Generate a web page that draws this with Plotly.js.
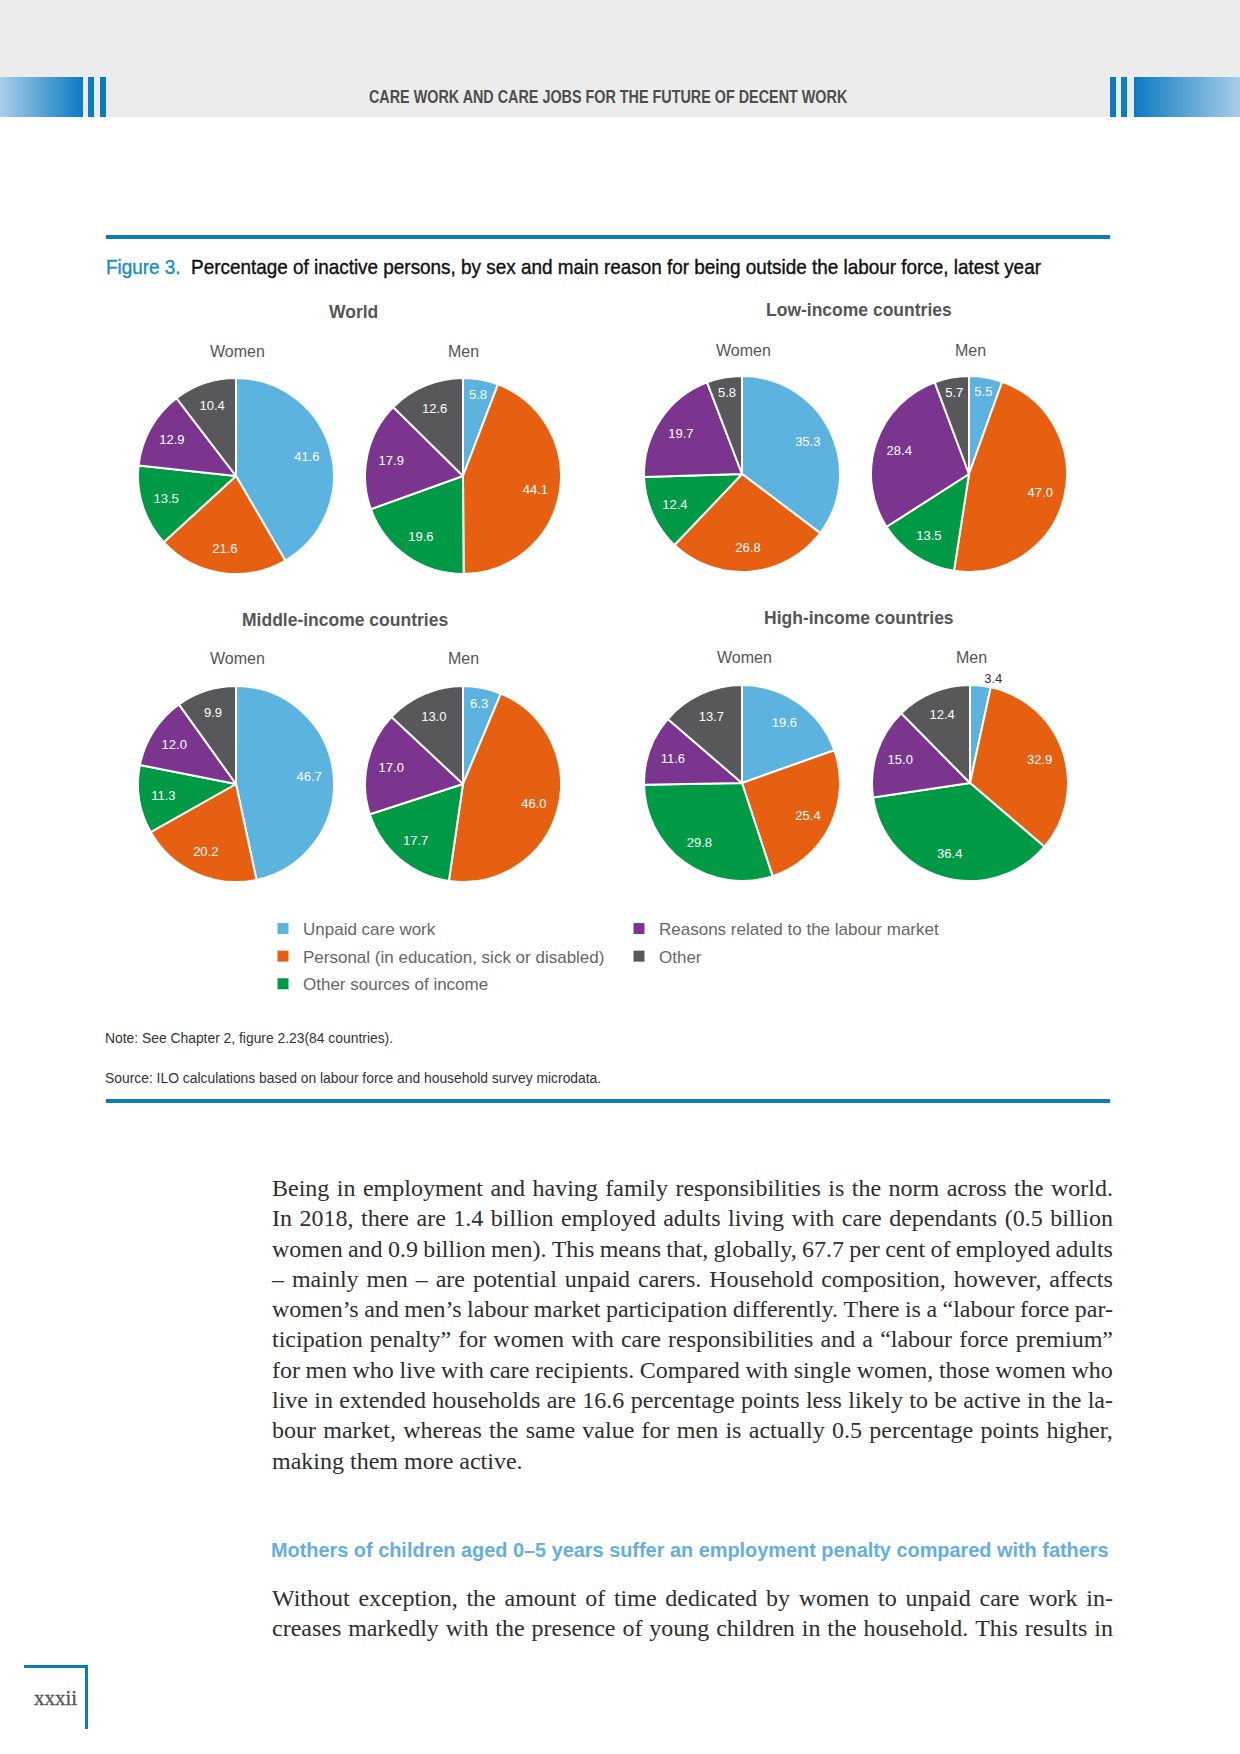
<!DOCTYPE html>
<html>
<head>
<meta charset="utf-8">
<script src="https://cdn.plot.ly/plotly-3.0.1.min.js"></script>
<style>
body{margin:0;width:1240px;height:1754px;position:relative;background:#fff;overflow:hidden;font-family:"Liberation Sans",Arial,sans-serif;}
.abs{position:absolute;}
.fit{position:absolute;white-space:nowrap;transform-origin:0 50%;display:inline-block;line-height:1.2;}
.narrow{font-family:"Liberation Sans Narrow","Arial Narrow","Liberation Sans",sans-serif;}
.para{position:absolute;left:272px;width:841px;font-family:"Liberation Serif","Times New Roman",serif;font-size:24px;color:#2e2e2e;}
.line{display:flex;justify-content:space-between;height:30.3px;line-height:30.3px;white-space:nowrap;}
.line.last{justify-content:flex-start;}
#chart{position:absolute;left:0;top:290px;width:1240px;height:720px;}
</style>
</head>
<body>
<!-- header band -->
<div class="abs" style="left:0;top:0;width:1240px;height:117px;background:#ececec"></div>
<div class="abs" style="left:0;top:77px;width:83px;height:40px;background:linear-gradient(to right,#a9cdea,#0a7cc1)"></div>
<div class="abs" style="left:88px;top:77px;width:6px;height:40px;background:#0a7cc1"></div>
<div class="abs" style="left:100px;top:77px;width:6px;height:40px;background:#0a7cc1"></div>
<div class="abs" style="left:1110px;top:77px;width:6px;height:40px;background:#0a7cc1"></div>
<div class="abs" style="left:1121px;top:77px;width:6px;height:40px;background:#0a7cc1"></div>
<div class="abs" style="left:1134px;top:77px;width:106px;height:40px;background:linear-gradient(to right,#0a7cc1,#a9cdea)"></div>
<div class="fit narrow" data-x="369" data-w="478" data-cy="98" style="font-weight:bold;font-size:18px;color:#4d4d4d">CARE WORK AND CARE JOBS FOR THE FUTURE OF DECENT WORK</div>

<!-- figure frame -->
<div class="abs" style="left:106px;top:235px;width:1004px;height:4px;background:#0f7bbf"></div>
<div class="fit narrow" data-x="106" data-w="935" data-cy="266" style="font-size:21px;color:#111;-webkit-text-stroke:0.4px #111"><span style="color:#1a8ccc;-webkit-text-stroke:0.4px #1a8ccc">Figure 3.</span>&nbsp;&nbsp;Percentage of inactive persons, by sex and main reason for being outside the labour force, latest year</div>

<div id="chart"></div>

<div class="fit narrow" data-x="105" data-w="288" data-cy="1038" style="font-size:14px;color:#333">Note: See Chapter 2, figure 2.23(84 countries).</div>
<div class="fit narrow" data-x="105" data-w="496" data-cy="1078" style="font-size:14px;color:#333">Source: ILO calculations based on labour force and household survey microdata.</div>
<div class="abs" style="left:106px;top:1099px;width:1004px;height:4px;background:#0f7bbf"></div>

<!-- body text -->
<div class="para" id="p1" style="top:1173px"></div>
<div class="fit narrow" data-x="271" data-w="838" data-cy="1549" style="font-weight:bold;font-size:21px;color:#64aee0">Mothers of children aged 0–5 years suffer an employment penalty compared with fathers</div>
<div class="para" id="p2" style="top:1583px"></div>

<!-- page number -->
<div class="abs" style="left:24px;top:1665px;width:63px;height:3px;background:#0f7bbf"></div>
<div class="abs" style="left:85px;top:1665px;width:3px;height:64px;background:#0f7bbf"></div>
<div class="fit" data-x="34" data-w="43" data-cy="1698" style="font-family:'Liberation Serif',serif;font-size:21px;color:#555;-webkit-text-stroke:0.3px #555">xxxii</div>

<script>
// ---------- data ----------
const categories = [
  'Unpaid care work',
  'Personal (in education, sick or disabled)',
  'Other sources of income',
  'Reasons related to the labour market',
  'Other'
];
const worldWomen  = [41.6, 21.6, 13.5, 12.9, 10.4];
const worldMen    = [5.8, 44.1, 19.6, 17.9, 12.6];
const lowWomen    = [35.3, 26.8, 12.4, 19.7, 5.8];
const lowMen      = [5.5, 47.0, 13.5, 28.4, 5.7];
const middleWomen = [46.7, 20.2, 11.3, 12.0, 9.9];
const middleMen   = [6.3, 46.0, 17.7, 17.0, 13.0];
const highWomen   = [19.6, 25.4, 29.8, 11.6, 13.7];
const highMen     = [3.4, 32.9, 36.4, 15.0, 12.4];
const groupTitles = ['World', 'Low-income countries', 'Middle-income countries', 'High-income countries'];
const sexLabels   = ['Women', 'Men'];

// ---------- styling / layout ----------
const colors = ['#5db3e0', '#e75f10', '#009a47', '#7c358f', '#58585a'];
const W = 1240, H = 720, TOP = 290, R = 98;
function dom(cx, cy) {
  return {x: [(cx - R) / W, (cx + R) / W], y: [1 - (cy - TOP + R) / H, 1 - (cy - TOP - R) / H]};
}
function px(x) { return x / W; }
function py(y) { return 1 - (y - TOP) / H; }

const pieSpecs = [
  {vals: worldWomen,  c: [236, 476]},
  {vals: worldMen,    c: [463, 476]},
  {vals: lowWomen,    c: [742, 474]},
  {vals: lowMen,      c: [969, 474]},
  {vals: middleWomen, c: [236, 784]},
  {vals: middleMen,   c: [463, 784]},
  {vals: highWomen,   c: [742, 783]},
  {vals: highMen,     c: [970, 783], outsideFirst: true}
];

const traces = [];
pieSpecs.forEach(s => {
  // coloured slices
  traces.push({
    type: 'pie', labels: categories, values: s.vals,
    sort: false, direction: 'clockwise', rotation: 0,
    domain: dom(s.c[0], s.c[1]),
    marker: {colors: colors, line: {color: '#ffffff', width: 2}},
    textinfo: 'none', showlegend: false, hoverinfo: 'label+value'
  });
  // value labels, placed by Plotly in the outer ring of the same slices
  traces.push({
    type: 'pie', labels: categories, values: s.vals,
    sort: false, direction: 'clockwise', rotation: 0, hole: 0.5,
    domain: dom(s.c[0], s.c[1]),
    marker: {colors: categories.map(() => 'rgba(0,0,0,0)'), line: {width: 0}},
    texttemplate: '%{value:.1f}',
    textposition: s.outsideFirst ? ['outside', 'inside', 'inside', 'inside', 'inside'] : 'inside',
    insidetextorientation: 'horizontal',
    insidetextfont: {family: 'Liberation Sans', size: 13, color: '#ffffff'},
    outsidetextfont: {family: 'Liberation Sans', size: 13, color: '#333333'},
    showlegend: false, hoverinfo: 'skip'
  });
});

// legend entries (column 1: first three, column 2: last two)
categories.forEach((name, i) => {
  traces.push({
    type: 'scatter', mode: 'markers', x: [null], y: [null], name: name,
    marker: {symbol: 'square', size: 11, color: colors[i]},
    legend: i < 3 ? 'legend' : 'legend2', legendgroup: 'g' + i,
    showlegend: true, hoverinfo: 'skip'
  });
});

const titlePos = [[353, 312], [859, 310], [345, 620], [859, 618]];
const sexPos = [
  [[237, 351], [463, 351]],
  [[743, 350], [970, 350]],
  [[237, 658], [463, 658]],
  [[744, 657], [971, 657]]
];
const annotations = [];
groupTitles.forEach((t, g) => {
  annotations.push({text: '<b>' + t + '</b>', x: px(titlePos[g][0]), y: py(titlePos[g][1]), xref: 'paper', yref: 'paper',
    showarrow: false, xanchor: 'center', yanchor: 'middle', font: {family: 'Liberation Sans', size: 17.5, color: '#555555'}});
  sexLabels.forEach((s, k) => {
    annotations.push({text: s, x: px(sexPos[g][k][0]), y: py(sexPos[g][k][1]), xref: 'paper', yref: 'paper',
      showarrow: false, xanchor: 'center', yanchor: 'middle', font: {family: 'Liberation Sans', size: 16, color: '#555555'}});
  });
});

const legendBase = {
  xanchor: 'left', yanchor: 'top', y: py(911),
  font: {family: 'Liberation Sans', size: 17, color: '#666666'},
  bgcolor: 'rgba(0,0,0,0)', borderwidth: 0, traceorder: 'grouped', tracegroupgap: 2.5, orientation: 'v'
};

const layout = {
  width: W, height: H,
  margin: {l: 0, r: 0, t: 0, b: 0},
  paper_bgcolor: 'rgba(0,0,0,0)', plot_bgcolor: 'rgba(0,0,0,0)',
  xaxis: {visible: false, range: [0, 1], fixedrange: true},
  yaxis: {visible: false, range: [0, 1], fixedrange: true},
  annotations: annotations,
  legend: Object.assign({}, legendBase, {x: px(263)}),
  legend2: Object.assign({}, legendBase, {x: px(619)}),
  font: {family: 'Liberation Sans'}
};

Plotly.newPlot('chart', traces, layout, {displayModeBar: false, staticPlot: true});

// ---------- body text ----------
const para1 = [
  'Being in employment and having family responsibilities is the norm across the world.',
  'In 2018, there are 1.4 billion employed adults living with care dependants (0.5 billion',
  'women and 0.9 billion men). This means that, globally, 67.7 per cent of employed adults',
  '– mainly men – are potential unpaid carers. Household composition, however, affects',
  'women’s and men’s labour market participation differently. There is a “labour force par-',
  'ticipation penalty” for women with care responsibilities and a “labour force premium”',
  'for men who live with care recipients. Compared with single women, those women who',
  'live in extended households are 16.6 percentage points less likely to be active in the la-',
  'bour market, whereas the same value for men is actually 0.5 percentage points higher,',
  'making them more active.'
];
const para2 = [
  'Without exception, the amount of time dedicated by women to unpaid care work in-',
  'creases markedly with the presence of young children in the household. This results in'
];
function fillPara(id, lines, lastLeft) {
  const box = document.getElementById(id);
  lines.forEach((ln, i) => {
    const d = document.createElement('div');
    d.className = 'line';
    if (lastLeft && i === lines.length - 1) {
      d.className = 'line last';
      d.style.whiteSpace = 'pre';
      d.textContent = ln;
    } else {
      ln.split(' ').forEach(w => {
        const s = document.createElement('span');
        s.textContent = w;
        d.appendChild(s);
      });
    }
    box.appendChild(d);
  });
}
fillPara('p1', para1, true);
fillPara('p2', para2, false);

// fit condensed texts to measured widths
document.querySelectorAll('.fit').forEach(el => {
  const w0 = el.offsetWidth, h0 = el.offsetHeight;
  const target = +el.dataset.w;
  el.style.left = el.dataset.x + 'px';
  el.style.top = (+el.dataset.cy - h0 / 2) + 'px';
  el.style.transform = 'scaleX(' + (target / w0) + ')';
});
</script>
</body>
</html>
